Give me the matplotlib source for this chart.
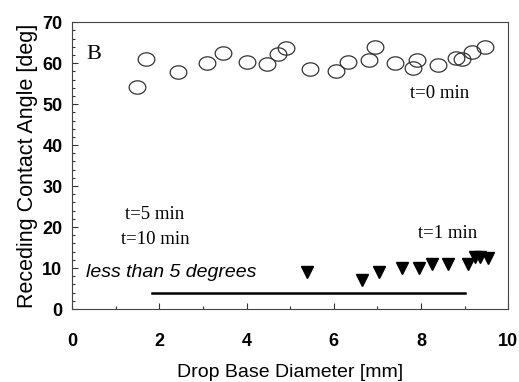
import matplotlib
matplotlib.use('Agg')
import matplotlib.pyplot as plt
from matplotlib.ticker import MultipleLocator
from matplotlib.path import Path
import numpy as np

# t=0 min (open circles)
x_t0 = [1.49, 1.70, 2.43, 3.10, 3.46, 4.00, 4.48, 4.73, 4.90, 5.46, 6.06, 6.33,
        6.80, 6.95, 7.40, 7.82, 7.90, 8.40, 8.80, 8.95, 9.17, 9.47]
y_t0 = [54.1, 61.0, 57.8, 60.0, 62.4, 60.2, 59.8, 62.2, 63.7, 58.5, 58.0, 60.2,
        60.7, 63.9, 60.0, 58.8, 60.7, 59.5, 61.2, 61.0, 62.7, 63.9]

# t=1 min (filled down triangles)
x_t1 = [5.39, 6.65, 7.04, 7.57, 7.96, 8.26, 8.62, 9.08, 9.24, 9.36, 9.54]
y_t1 = [9.0, 7.1, 9.0, 10.0, 10.0, 11.0, 11.0, 11.0, 12.7, 12.7, 12.4]

# t=5 / t=10 min: below 5 degrees
x_low = [1.83, 9.0]
y_low = [4.0, 4.0]

# scanned circles look slightly squashed -> elliptic marker
th = np.linspace(0, 2 * np.pi, 60)
ellipse = Path(np.column_stack([np.cos(th), 0.8 * np.sin(th)]), closed=True)

fig = plt.figure(figsize=(5.19, 3.82), dpi=100)
ax = fig.add_axes([0.139, 0.191, 0.840, 0.751])

ax.plot(x_t0, y_t0, linestyle='none', marker=ellipse, markersize=12,
        markerfacecolor='none', markeredgecolor='#333333', markeredgewidth=0.9)
ax.plot(x_t1, y_t1, linestyle='none', marker='v', markersize=9,
        color='black')
ax.plot(x_low, y_low, color='black', linewidth=1.8)

ax.set_xlim(0, 10)
ax.set_ylim(0, 70)
ax.xaxis.set_major_locator(MultipleLocator(2))
ax.yaxis.set_major_locator(MultipleLocator(10))
ax.yaxis.set_minor_locator(MultipleLocator(2))
ax.xaxis.set_minor_locator(MultipleLocator(1))
ax.tick_params(which='both', direction='in', width=0.8, color='#333333')
ax.tick_params(which='major', length=4, labelsize=13)
ax.tick_params(which='minor', length=2)
ax.tick_params(axis='x', pad=17)
ax.tick_params(axis='y', pad=7)
for lab in ax.get_xticklabels() + ax.get_yticklabels():
    lab.set_fontweight('bold')
    lab.set_family('Liberation Sans')
for s in ax.spines.values():
    s.set_linewidth(0.8)
    s.set_color('#444444')

ax.set_xlabel('Drop Base Diameter [mm]', fontsize=14, family='Liberation Sans', labelpad=10)
ax.set_ylabel('Receding Contact Angle [deg]', fontsize=15.5, family='Liberation Sans', labelpad=3)

serif = 'Liberation Serif'
ax.text(0.5, 62.2, 'B', fontsize=16, family=serif, ha='center', va='center')
ax.text(8.44, 52.7, 't=0 min', fontsize=13.5, family=serif, ha='center', va='center')
ax.text(8.62, 18.5, 't=1 min', fontsize=13.5, family=serif, ha='center', va='center')
ax.text(1.9, 23, 't=5 min', fontsize=13.5, family=serif, ha='center', va='center')
ax.text(1.9, 17, 't=10 min', fontsize=13.5, family=serif, ha='center', va='center')
ax.text(2.27, 9, 'less than 5 degrees', fontsize=14, family='Liberation Sans',
        style='italic', ha='center', va='center')

fig.savefig('out.png', dpi=100)
